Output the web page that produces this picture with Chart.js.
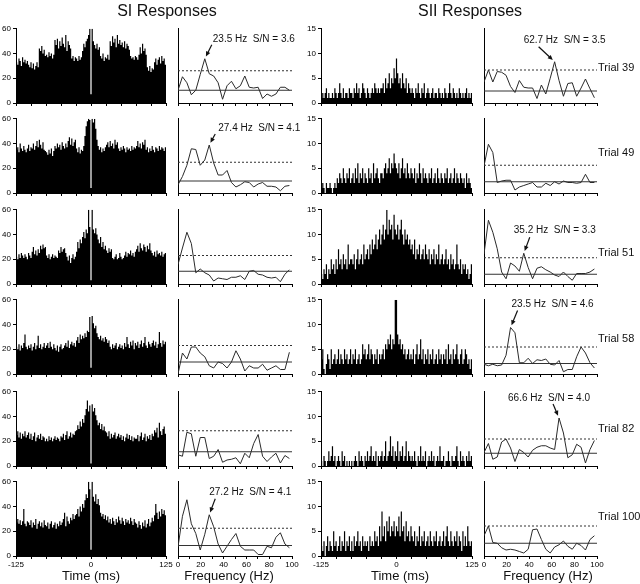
<!DOCTYPE html>
<html><head><meta charset="utf-8">
<script src="https://cdn.jsdelivr.net/npm/chart.js@4/dist/chart.umd.min.js"></script>
<style>
body{margin:0;background:#fff;width:640px;height:584px;position:relative;overflow:hidden;font-family:"Liberation Sans",Arial,sans-serif;color:#111}
canvas{position:absolute}
.c{position:absolute;white-space:nowrap;transform:translate(-50%,-50%)}
.l{position:absolute;white-space:nowrap;transform:translateY(-50%);font-size:11px}
</style></head><body>
<script>
// ---------------- DATA ----------------
const trials = [39, 49, 51, 58, 82, 100];
const columnTitles = ['SI Responses', 'SII Responses'];
const timeTitle = 'Time (ms)';
const freqTitle = 'Frequency (Hz)';
const timeTickLabels = [-125, 0, 125];
const freqTickLabels = [0, 20, 40, 60, 80, 100];
const BIN_START = -125, BIN_WIDTH = 2;   // 125 bins of 2 ms

// spectral frequencies (Hz)
const freqs = [0,3.9,7.8,11.7,15.6,19.5,23.5,27.4,31.3,35.2,39.1,43.0,46.9,50.8,54.7,58.6,62.5,66.4,70.3,74.2,78.1,82.0,85.9,89.8,93.8,97.7];

// SI histograms (counts per bin)
const siHist39 = [33,31,36,34,30,37,33,35,32,34,31,29,33,28,32,27,30,33,29,44,42,46,40,43,38,
39,37,41,38,40,36,39,51,47,52,44,50,46,53,48,45,55,42,50,47,44,36,38,34,37,
36,34,38,35,37,42,48,45,50,52,55,63,7,62,50,47,44,48,43,45,38,36,40,34,37,
36,39,35,50,46,54,49,52,45,55,48,51,47,49,45,50,44,48,46,43,38,36,37,35,38,
37,35,39,45,40,48,42,44,39,29,26,30,25,28,27,33,36,31,35,37,32,38,34,36,31];
const siHist49 = [35,37,33,40,36,34,38,35,33,36,39,34,37,36,40,35,38,42,37,43,39,36,41,35,34,
33,31,35,32,36,30,34,38,36,40,37,39,35,41,38,36,40,37,42,45,39,44,38,41,43,
36,33,37,32,35,34,38,46,54,58,61,59,4,62,57,60,52,43,38,35,37,33,36,34,37,
39,41,37,42,38,40,36,43,39,41,36,34,37,35,38,36,33,37,35,36,34,38,35,37,36,
38,42,37,40,36,41,39,43,35,37,33,36,34,38,35,33,37,36,34,38,35,37,36,34,37];
const siHist51 = [22,20,24,21,25,23,21,24,22,20,25,23,21,26,30,24,27,23,28,25,31,28,32,29,30,
23,21,24,20,22,24,21,23,22,21,27,25,30,26,28,29,25,22,19,23,17,21,24,20,22,
26,34,29,36,33,38,42,37,44,41,62,46,3,62,44,41,45,40,36,33,38,30,34,28,31,
27,25,29,26,28,21,20,22,24,20,21,25,22,20,21,23,26,22,25,24,27,23,25,22,26,
28,31,26,33,29,27,32,30,26,31,28,33,27,25,23,26,22,27,24,25,23,26,22,24,25];
const siHist58 = [22,20,24,19,23,21,25,32,22,20,23,21,24,19,22,25,20,23,31,21,24,20,22,25,21,
23,25,21,26,22,20,24,21,19,23,18,22,24,20,21,23,25,22,27,21,24,26,23,25,22,
27,30,25,32,28,31,29,33,30,35,34,46,5,47,41,37,39,33,30,28,31,27,29,26,30,
28,25,27,22,20,24,21,23,25,20,22,24,21,23,20,25,22,30,24,21,26,23,27,20,25,
23,26,21,24,27,22,25,30,23,21,26,24,22,25,27,23,26,21,24,34,25,22,27,24,26];
const siHist82 = [25,28,23,27,22,26,24,28,23,25,27,22,26,21,24,27,20,23,25,22,26,21,24,23,20,
22,20,24,21,23,20,22,24,21,23,22,20,24,23,26,21,25,28,22,24,27,23,26,25,28,
29,33,30,36,32,38,35,41,46,53,44,49,2,50,44,47,41,37,33,35,30,34,29,32,28,
27,24,28,22,26,23,25,27,22,24,26,23,25,21,24,20,23,26,22,25,21,24,20,23,22,
22,25,20,24,27,21,23,26,20,24,22,25,21,26,24,29,27,31,23,35,28,25,30,32,26];
const siHist100 = [27,30,26,29,25,28,38,26,24,28,27,25,29,23,27,25,30,22,26,28,24,27,23,29,25,
24,27,22,26,28,23,25,27,22,26,24,28,25,27,30,35,24,32,28,26,31,29,34,30,33,
34,38,32,40,36,42,39,45,50,47,63,54,5,63,48,44,50,42,46,41,35,32,34,30,33,
29,32,27,30,26,31,28,25,30,27,32,29,26,31,28,25,30,27,29,26,31,28,25,30,27,
26,23,28,25,22,27,24,29,23,26,30,24,27,31,28,33,42,35,30,36,32,38,34,37,33];

// SII histograms
const siiHist39 = [1,2,1,2,3,1,2,1,1,2,1,3,2,1,2,4,2,1,3,1,2,2,1,3,2,
2,1,3,2,4,2,3,1,2,4,3,2,1,3,2,1,2,3,2,4,3,2,3,2,3,
3,4,2,5,3,4,6,3,5,4,7,5,9,6,4,5,3,6,4,3,5,2,4,3,2,
3,2,1,3,2,4,2,1,3,2,4,1,2,3,2,1,2,3,1,2,2,1,3,2,1,
2,1,3,2,1,2,4,2,1,3,2,1,2,1,3,2,1,2,1,2,3,1,2,1,2];
const siiHist49 = [1,2,1,0,2,1,1,2,1,0,1,2,1,3,2,4,3,2,5,3,2,4,3,5,2,
3,4,2,5,3,6,2,4,3,5,2,4,3,2,5,3,4,2,6,3,4,5,3,2,4,
4,3,5,6,4,5,7,4,6,5,8,6,5,4,6,3,5,7,4,5,3,6,4,3,5,
4,3,5,2,4,3,6,4,2,5,3,4,3,2,4,3,5,2,3,4,2,5,3,2,4,
3,2,4,3,5,2,3,4,2,3,5,2,4,3,2,4,3,2,3,1,4,2,3,2,1];
const siiHist51 = [2,1,3,2,4,1,3,2,5,3,4,2,5,3,7,4,5,3,6,4,5,3,8,4,5,
5,4,6,3,5,7,4,5,6,4,8,5,6,7,5,8,6,9,7,8,10,7,9,11,8,
10,12,9,11,15,10,13,11,12,9,14,11,10,12,9,11,13,10,8,11,9,10,8,9,7,
8,6,9,5,7,6,8,5,6,7,5,8,6,5,7,4,6,5,7,4,6,5,8,4,5,
6,4,5,7,4,5,3,6,4,5,3,4,8,4,3,5,2,4,3,4,2,3,1,2,4];
const siiHist58 = [3,5,1,0,2,4,3,1,5,2,3,4,2,3,5,2,4,3,2,5,3,4,2,3,5,
2,4,3,5,2,3,4,2,3,6,4,5,3,4,6,3,5,4,2,4,3,5,2,4,3,
4,5,3,6,5,7,6,8,5,7,6,15,15,8,6,7,5,6,4,5,3,4,5,3,4,
3,5,2,4,6,3,4,7,3,5,2,4,3,5,2,4,3,5,2,3,4,2,5,3,4,
2,4,3,5,2,6,3,4,2,5,3,4,6,3,2,4,5,2,3,5,4,2,3,1,3];
const siiHist82 = [1,0,2,1,0,1,3,1,2,4,1,2,0,1,2,1,0,3,1,2,0,1,0,1,0,
1,0,1,2,1,0,3,1,2,1,0,2,1,3,1,2,4,1,2,1,3,0,2,1,2,
3,1,2,5,1,2,3,6,2,4,1,3,2,5,1,3,2,4,1,2,5,1,3,2,1,
2,1,3,1,0,2,1,4,1,2,1,3,0,1,2,1,3,1,2,0,1,2,1,4,1,
1,2,0,1,1,3,1,0,2,1,1,2,4,1,0,3,1,2,1,0,2,1,3,1,2];
const siiHist100 = [2,1,3,0,2,4,1,3,2,1,5,2,3,1,2,4,1,3,2,5,1,3,2,4,1,
3,1,4,2,3,5,2,3,1,4,2,3,2,3,1,4,2,3,2,5,3,4,2,6,3,
9,4,6,3,7,5,8,4,6,5,7,4,6,5,8,4,9,5,6,3,7,4,5,3,6,
4,3,5,2,4,3,6,2,4,3,5,2,3,4,2,5,3,2,4,3,5,2,3,4,2,
3,5,2,4,6,3,2,5,3,2,4,3,5,2,4,3,1,5,2,4,2,6,3,2,3];

// SI spectra (arbitrary units 0-10)
const siSpec39  = [1.7,3.5,2.7,1.1,1.7,3.8,5.9,3.9,3.6,2.7,0.5,2.3,2.9,1.9,2.3,3.6,2.1,2.0,2.1,0.6,1.2,0.9,1.2,2.1,2.1,1.7];
const siSpec49  = [1.1,2.2,3.7,5.9,5.8,3.7,4.4,6.4,4.0,2.4,2.4,3.0,1.4,0.8,1.1,1.5,1.4,0.8,1.2,1.4,0.9,0.9,0.8,0.3,0.9,1.0];
const siSpec51  = [2.6,4.8,6.9,5.4,1.5,2.0,1.5,1.2,0.4,0.8,0.7,0.6,0.9,0.9,1.1,0.6,1.7,1.8,1.3,1.2,0.9,0.8,0.9,0.3,1.3,1.9];
const siSpec58  = [0.0,2.8,2.0,3.6,3.6,2.8,2.3,1.1,0.8,1.6,1.4,0.8,1.6,3.1,2.0,0.4,1.1,0.8,0.8,1.3,0.5,0.8,1.1,0.6,0.6,2.9];
const siSpec82  = [1.5,1.3,4.5,4.3,1.3,3.8,3.8,1.0,1.3,2.2,0.5,0.8,0.9,1.1,0.3,1.7,1.1,3.0,4.2,1.3,0.6,1.2,1.7,0.4,1.4,1.0];
const siSpec100 = [1.2,5.3,7.5,4.3,3.0,0.8,2.9,5.5,3.9,1.6,0.4,1.3,2.2,3.0,1.3,0.8,0.8,0.8,0.2,0.2,1.3,1.1,2.5,3.1,1.6,1.1];
const siThreshold = [4.3, 4.1, 3.8, 3.8, 4.7, 3.7];
const siMean      = [1.7, 1.6, 1.7, 1.6, 1.9, 1.4];

// SII spectra
const siiSpec39  = [2.8,4.4,2.8,4.2,4.1,3.7,2.2,1.4,3.0,2.1,2.0,2.0,0.6,2.4,1.2,3.3,5.5,3.0,0.9,2.6,2.7,0.9,2.0,3.2,1.9,0.7];
const siiSpec49  = [3.6,6.5,5.4,1.4,1.6,1.7,1.7,0.4,0.8,1.0,1.2,1.4,0.8,0.8,1.3,1.0,1.5,1.2,1.6,1.4,1.4,1.3,1.4,2.5,1.4,1.4];
const siiSpec51  = [4.0,8.5,6.9,4.7,1.6,0.7,2.8,2.4,1.7,4.1,2.2,0.7,2.1,2.3,1.9,1.6,1.2,1.0,1.6,1.0,0.5,1.4,1.4,1.4,1.6,2.0];
const siiSpec58  = [1.3,1.1,1.3,1.1,1.2,2.5,6.2,5.5,1.5,1.5,2.1,1.4,1.9,1.8,2.0,1.3,1.2,1.8,0.3,0.6,0.6,2.3,3.6,2.8,1.5,0.8];
const siiSpec82  = [1.8,3.0,0.9,1.2,3.2,3.6,2.4,0.6,2.2,1.8,1.2,2.1,2.5,2.7,2.7,2.4,2.2,6.4,4.4,1.1,1.5,2.9,2.5,0.4,2.2,3.4];
const siiSpec100 = [2.7,4.0,1.8,1.7,1.1,0.8,0.9,0.8,0.6,0.4,0.9,3.5,3.6,2.2,0.9,0.4,1.2,1.5,2.0,1.3,0.9,1.7,1.4,0.8,2.2,2.7];
const siiThreshold = [4.4, 3.7, 3.5, 3.6, 3.6, 4.0];
const siiMean      = [1.6, 1.5, 1.3, 1.4, 1.7, 1.7];

// peak annotations
const siPeakLabels  = ['23.5 Hz  S/N = 3.6', '27.4 Hz  S/N = 4.1', null, null, null, '27.2 Hz  S/N = 4.1'];
const siPeakIndex   = [6, 7, null, null, null, 7];
const siiPeakLabels = ['62.7 Hz  S/N = 3.5', null, '35.2 Hz  S/N = 3.3', '23.5 Hz  S/N = 4.6', '66.6 Hz  S/N = 4.0', null];
const siiPeakIndex  = [16, null, 9, 6, 17, null];

const siHists   = [siHist39, siHist49, siHist51, siHist58, siHist82, siHist100];
const siiHists  = [siiHist39, siiHist49, siiHist51, siiHist58, siiHist82, siiHist100];
const siSpecs   = [siSpec39, siSpec49, siSpec51, siSpec58, siSpec82, siSpec100];
const siiSpecs  = [siiSpec39, siiSpec49, siiSpec51, siiSpec58, siiSpec82, siiSpec100];

// ---------------- LAYOUT / STYLE ----------------
const ROW_TOPS = [28, 118, 209, 299, 391, 481];
const PLOT_H = 75;
const COL_SI_HIST = {left: 16, w: 150};
const COL_SI_SPEC = {left: 178, w: 114};
const COL_SII_HIST = {left: 321, w: 151};
const COL_SII_SPEC = {left: 484, w: 113};
// [textDx, textDy, tailDx, tailDy] relative to the peak point
const siNoteOffsets  = [[8,-20,7,-14],[9,-17,6,-11],null,null,null,[0,-23,6,-16]];
const siiNoteOffsets = [[-31,-22,-16,-15],null,[-10,-23,6,-16],[1,-23,7,-17],[-51,-20,-6,-14],null];
const trialLabelY = [67, 152, 252, 338, 428, 516];
const FAMILY = '"Liberation Sans", Arial, Helvetica, sans-serif';
const TICK_FONT = {family: FAMILY, size: 8};
const INK = '#111';

function addCanvas(x, y, w, h) {
  const c = document.createElement('canvas');
  c.width = w; c.height = h;
  c.style.left = x + 'px'; c.style.top = y + 'px';
  c.style.width = w + 'px'; c.style.height = h + 'px';
  document.body.appendChild(c);
  return c;
}
function addText(cls, txt, x, y, size) {
  const d = document.createElement('div');
  d.className = cls; d.textContent = txt;
  d.style.left = x + 'px'; d.style.top = y + 'px';
  if (size) d.style.fontSize = size + 'px';
  document.body.appendChild(d);
}

// histogram as a filled step outline (bin edges)
function histPoints(values) {
  const pts = [];
  values.forEach((v, i) => {
    pts.push({x: BIN_START + BIN_WIDTH * i, y: v});
  });
  pts.push({x: BIN_START + BIN_WIDTH * values.length, y: values[values.length - 1]});
  return pts;
}

function histChart(col, row, values, yMax, yStep, isBottom) {
  const padL = 22, padT = 6, padR = 10, padB = 16;
  const c = addCanvas(col.left - padL, ROW_TOPS[row] - padT, col.w + padL + padR, PLOT_H + padT + padB);
  new Chart(c, {
    type: 'line',
    data: {datasets: [{
      data: histPoints(values),
      stepped: 'before', fill: 'origin',
      backgroundColor: '#000', borderColor: 'rgba(0,0,0,0)', borderWidth: 0, pointRadius: 0
    }]},
    options: {
      responsive: false, animation: false, devicePixelRatio: 1,
      layout: {padding: {left: 0, top: padT, right: padR, bottom: 0}},
      plugins: {legend: {display: false}, tooltip: {enabled: false}},
      scales: {
        x: {type: 'linear', min: -125, max: 125, offset: false,
          grid: {display: true, drawOnChartArea: false, drawTicks: true, tickLength: 3, color: '#000', offset: false},
          border: {display: true, color: '#000', width: 1},
          ticks: {stepSize: 25, autoSkip: false, maxRotation: 0, padding: 1, font: TICK_FONT, color: '#000',
            callback: v => (isBottom && timeTickLabels.includes(v)) ? String(v) : ''},
          afterFit: s => { s.height = padB; }},
        y: {min: 0, max: yMax,
          grid: {display: true, drawOnChartArea: false, drawTicks: true, tickLength: 3, color: '#000'},
          border: {display: true, color: '#000', width: 1},
          ticks: {stepSize: yStep, padding: 2, font: TICK_FONT, color: '#000'},
          afterFit: s => { s.width = padL; }}
      }
    }
  });
}

function specChart(col, row, values, thr, mean, isBottom, label, idx, off) {
  const padL = 8, padT = 6, padR = 22, padB = 16;
  const c = addCanvas(col.left - padL, ROW_TOPS[row] - padT, col.w + padL + padR, PLOT_H + padT + padB);
  const note = {
    id: 'peakNote',
    afterDatasetsDraw(chart) {
      if (!label) return;
      const xs = chart.scales.x, ys = chart.scales.y, ctx = chart.ctx;
      const px = xs.getPixelForValue(freqs[idx]), py = ys.getPixelForValue(values[idx]);
      const [tdx, tdy, adx, ady] = off;
      ctx.save();
      ctx.font = '10px ' + FAMILY;
      ctx.fillStyle = INK; ctx.strokeStyle = INK;
      ctx.textBaseline = 'middle'; ctx.textAlign = 'left';
      ctx.fillText(label, px + tdx, py + tdy);
      const sx = px + adx, sy = py + ady;
      const dx = px - sx, dy = py - sy, len = Math.hypot(dx, dy);
      const ux = dx / len, uy = dy / len;
      const ex = px - ux * 2.5, ey = py - uy * 2.5;
      const hl = 5, hw = 2.3;
      ctx.lineWidth = 1.2;
      ctx.beginPath(); ctx.moveTo(sx, sy); ctx.lineTo(ex - ux * hl * 0.8, ey - uy * hl * 0.8); ctx.stroke();
      ctx.beginPath();
      ctx.moveTo(ex, ey);
      ctx.lineTo(ex - ux * hl - uy * hw, ey - uy * hl + ux * hw);
      ctx.lineTo(ex - ux * hl + uy * hw, ey - uy * hl - ux * hw);
      ctx.closePath(); ctx.fill();
      ctx.restore();
    }
  };
  new Chart(c, {
    type: 'line',
    data: {datasets: [
      {data: freqs.map((f, i) => ({x: f, y: values[i]})), borderColor: '#2a2a2a', borderWidth: 1, pointRadius: 0, tension: 0},
      {data: [{x: 0, y: thr}, {x: 100, y: thr}], borderColor: '#333', borderWidth: 1, borderDash: [2, 2], pointRadius: 0},
      {data: [{x: 0, y: mean}, {x: 100, y: mean}], borderColor: '#333', borderWidth: 1, pointRadius: 0}
    ]},
    options: {
      responsive: false, animation: false, devicePixelRatio: 1,
      layout: {padding: {left: padL, top: padT, right: padR, bottom: 0}},
      plugins: {legend: {display: false}, tooltip: {enabled: false}},
      scales: {
        x: {type: 'linear', min: 0, max: 100,
          grid: {display: true, drawOnChartArea: false, drawTicks: true, tickLength: 3, color: '#000'},
          border: {display: true, color: '#000', width: 1},
          ticks: {stepSize: 10, autoSkip: false, maxRotation: 0, padding: 1, font: TICK_FONT, color: '#000',
            callback: v => (isBottom && freqTickLabels.includes(v)) ? String(v) : ''},
          afterFit: s => { s.height = padB; }},
        y: {min: 0, max: 10,
          grid: {display: false},
          border: {display: true, color: '#000', width: 1},
          ticks: {display: false},
          afterFit: s => { s.width = 0; }}
      }
    },
    plugins: [note]
  });
}

trials.forEach((t, r) => {
  const bottom = r === trials.length - 1;
  histChart(COL_SI_HIST, r, siHists[r], 60, 20, bottom);
  specChart(COL_SI_SPEC, r, siSpecs[r], siThreshold[r], siMean[r], bottom, siPeakLabels[r], siPeakIndex[r], siNoteOffsets[r]);
  histChart(COL_SII_HIST, r, siiHists[r], 15, 5, bottom);
  specChart(COL_SII_SPEC, r, siiSpecs[r], siiThreshold[r], siiMean[r], bottom, siiPeakLabels[r], siiPeakIndex[r], siiNoteOffsets[r]);
  addText('l', 'Trial ' + t, 598, trialLabelY[r]);
});

addText('c', columnTitles[0], 167, 11, 16);
addText('c', columnTitles[1], 470, 11, 16);
addText('c', timeTitle, 91, 575, 13);
addText('c', freqTitle, 229, 575, 13);
addText('c', timeTitle, 400, 575, 13);
addText('c', freqTitle, 548, 575, 13);
</script>
</body></html>
